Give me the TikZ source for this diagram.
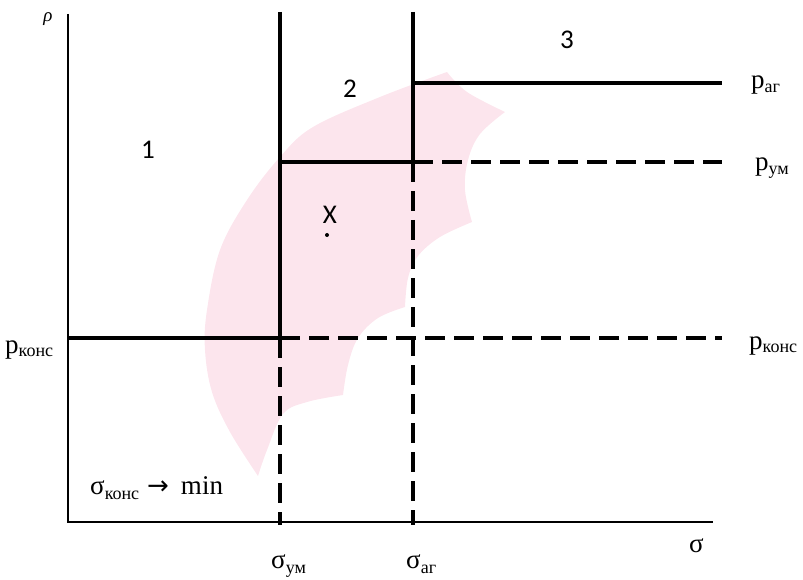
\documentclass[tikz,border=0pt]{standalone}
\usepackage{fontspec}
\setmainfont{Liberation Serif}
\newfontfamily\calib{Carlito}
\newfontfamily\dejavu{DejaVu Sans}
\definecolor{zonepink}{RGB}{252,229,237}
\newcommand{\subsz}{\fontsize{18}{19}\selectfont}
\begin{document}
\begin{tikzpicture}[x=1pt,y=-1pt,
  axisline/.style={line width=2.6pt},
  bold/.style={line width=4pt},
  bolddash/.style={line width=4pt,dash pattern=on 20pt off 9pt},
  lab/.style={inner sep=0pt,font=\fontsize{27}{29}\selectfont},
  num/.style={inner sep=0pt,font=\calib\fontsize{27}{29}\selectfont}]
\useasboundingbox (0,0) rectangle (803,580);
% pink zone
\fill[zonepink]
  plot[smooth,tension=0.6] coordinates {(447,72) (380,97) (313,127) (280,157) (247,200) (220,250) (207,310) (205,350) (212,392) (230,432) (258,476)}
  -- plot[smooth,tension=0.6] coordinates {(258,476) (267,450) (283,414) (307,402) (343,395)}
  -- plot[smooth,tension=0.6] coordinates {(343,395) (348,365) (358,338) (378,318) (405,307)}
  -- plot[smooth,tension=0.6] coordinates {(405,307) (408,278) (418,256) (440,237) (472,222)}
  -- plot[smooth,tension=0.6] coordinates {(472,222) (465,190) (468,160) (480,134) (505,112)}
  -- plot[smooth,tension=0.6] coordinates {(505,112) (467,92) (447,72)}
  -- cycle;
% coordinates
\coordinate (O) at (68,522);
\coordinate (Ytop) at (68,14);
\coordinate (Xend) at (713,522);
\coordinate (umTop) at (280,12);
\coordinate (umK) at (280,338);
\coordinate (umBot) at (280,525);
\coordinate (agTop) at (413,12);
\coordinate (agA) at (413,83);
\coordinate (agU) at (413,162);
\coordinate (agK) at (413,338);
\coordinate (agBot) at (413,525);
\coordinate (umU) at (280,162);
\coordinate (kL) at (68,338);
\coordinate (aR) at (722,83);
\coordinate (uR) at (722,162);
\coordinate (kR) at (722,338);
% axes
\draw[axisline] (Ytop) -- (O) -- (Xend);
% solid lines
\draw[bold] (umTop) -- (umK);
\draw[bold] (agTop) -- (agU);
\draw[bold] (agA) -- (aR);
\draw[bold] (umU) -- (agU);
\draw[bold] (kL) -- (umK);
% dashed lines
\draw[bolddash] (umK) -- (umBot);
\draw[bolddash] (agU) -- (agBot);
\draw[bolddash] (agU) -- (uR);
\draw[bolddash] (umK) -- (kR);
% labels
\node[inner sep=0pt,font=\itshape\fontsize{19}{20}\selectfont] (rho) at (48,19) {ρ};
\node[num] (n1) at (148,150) {1};
\node[num] (n2) at (350,89) {2};
\node[num] (n3) at (567,40) {3};
\node[num] (nx) at (330,215) {X};
\fill (327,235) circle (2pt);
\node[lab,anchor=base west] (pkl) at (5,353) {p\textsubscript{\subsz конс}};
\node[lab,anchor=base west] (pa) at (751,89) {p\textsubscript{\subsz аг}};
\node[lab,anchor=base west] (pu) at (755,171) {p\textsubscript{\subsz ум}};
\node[lab,anchor=base west] (pkr) at (749,349) {p\textsubscript{\subsz конс}};
\node[lab,anchor=base west] (smin) at (90,494) {σ\raisebox{-5pt}{\subsz конс}\hspace{8pt}{\dejavu\fontsize{26}{28}\selectfont →}\hspace{12pt}min};
\node[lab,anchor=base west] (sum) at (271,568) {σ\raisebox{-5pt}{\subsz ум}};
\node[lab,anchor=base west] (sag) at (406,568) {σ\raisebox{-5pt}{\subsz аг}};
\node[lab,anchor=base west] (sig) at (689,552) {σ};
\end{tikzpicture}
\end{document}
